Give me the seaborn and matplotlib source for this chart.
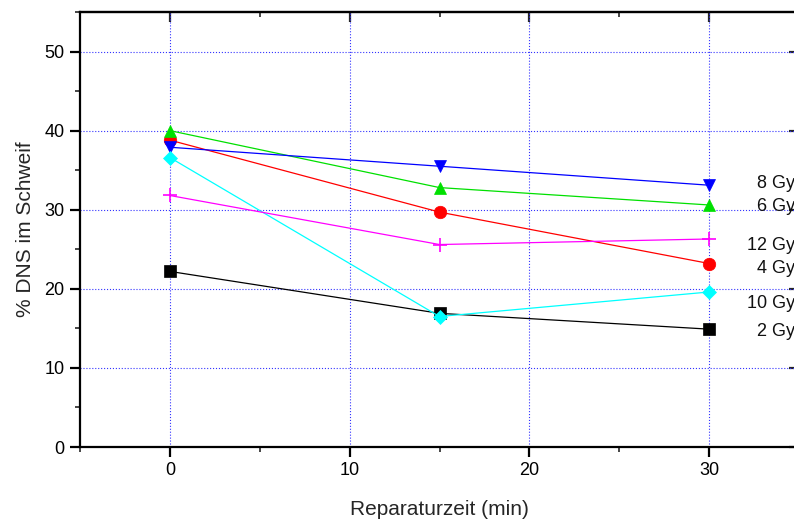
import matplotlib
matplotlib.use("Agg")
import matplotlib.pyplot as plt
from matplotlib.ticker import MultipleLocator
import seaborn as sns
import pandas as pd

# Repair time (min) and % DNA in the comet tail per dose
time_min = [0, 15, 30]
dose_labels = ["2 Gy", "4 Gy", "6 Gy", "8 Gy", "10 Gy", "12 Gy"]
dna_2gy = [22.2, 16.9, 14.9]
dna_4gy = [38.8, 29.7, 23.2]
dna_6gy = [40.0, 32.8, 30.6]
dna_8gy = [37.9, 35.5, 33.1]
dna_10gy = [36.6, 16.5, 19.6]
dna_12gy = [31.8, 25.6, 26.3]

# Label positions at the right edge
label_y = [14.6, 22.6, 30.4, 33.3, 18.1, 25.5]

series = [dna_2gy, dna_4gy, dna_6gy, dna_8gy, dna_10gy, dna_12gy]
colors = ["black", "#ff0000", "#00e000", "#0000ff", "#00ffff", "#ff00ff"]
markers = ["s", "o", "^", "v", "D", "+"]
msizes = [8, 9, 9, 9, 7, 10]

sns.set_theme(style="white")
plt.rcParams["font.family"] = ["Liberation Sans", "DejaVu Sans"]

fig = plt.figure(figsize=(7.94, 5.21), dpi=100)
ax = fig.add_axes([80 / 794, 74 / 521, 719 / 794, 435 / 521])

for lab, vals, c, m, ms in zip(dose_labels, series, colors, markers, msizes):
    df = pd.DataFrame({"t": time_min, "v": vals})
    sns.lineplot(data=df, x="t", y="v", ax=ax, color=c, marker=m,
                 markersize=ms, linewidth=0.9, markeredgecolor=c,
                 markeredgewidth=1.2 if m == "+" else 0.5, zorder=3)

for lab, y in zip(dose_labels, label_y):
    ax.text(34.8, y, lab, ha="right", va="center", fontsize=13, color="#111111")

ax.set_xlim(-5, 35)
ax.set_ylim(0, 55)
ax.xaxis.set_major_locator(MultipleLocator(10))
ax.xaxis.set_minor_locator(MultipleLocator(5))
ax.yaxis.set_major_locator(MultipleLocator(10))
ax.yaxis.set_minor_locator(MultipleLocator(5))
ax.set_xticks([0, 10, 20, 30])
ax.set_yticks([0, 10, 20, 30, 40, 50])

ax.grid(True, which="major", color="#3333ff", linestyle=":", linewidth=0.8)
ax.set_axisbelow(True)

for s in ax.spines.values():
    s.set_visible(True)
    s.set_color("black")
    s.set_linewidth(1.6)

ax.tick_params(axis="both", which="major", labelsize=13, colors="black",
               width=1.6, length=7, pad=4)
ax.tick_params(axis="both", which="minor", width=1.2, length=3.6)
ax.tick_params(axis="x", which="both", bottom=True, top=False, direction="out")
ax.tick_params(axis="y", which="both", left=True, right=False, direction="out")

# Mirrored ticks on top and right point inward
sec_x = ax.secondary_xaxis("top")
sec_x.xaxis.set_major_locator(MultipleLocator(10))
sec_x.xaxis.set_minor_locator(MultipleLocator(5))
sec_x.tick_params(which="major", direction="in", length=7, width=1.6, labeltop=False)
sec_x.tick_params(which="minor", direction="in", length=3.6, width=1.2)
sec_x.spines["top"].set_linewidth(1.6)
sec_y = ax.secondary_yaxis("right")
sec_y.yaxis.set_major_locator(MultipleLocator(10))
sec_y.yaxis.set_minor_locator(MultipleLocator(5))
sec_y.tick_params(which="major", direction="in", length=7, width=1.6, labelright=False)
sec_y.tick_params(which="minor", direction="in", length=3.6, width=1.2)

ax.set_xlabel("Reparaturzeit (min)", fontsize=15, labelpad=15)
ax.set_ylabel("% DNS im Schweif", fontsize=15, labelpad=7)

fig.savefig("out.png", dpi=100)
